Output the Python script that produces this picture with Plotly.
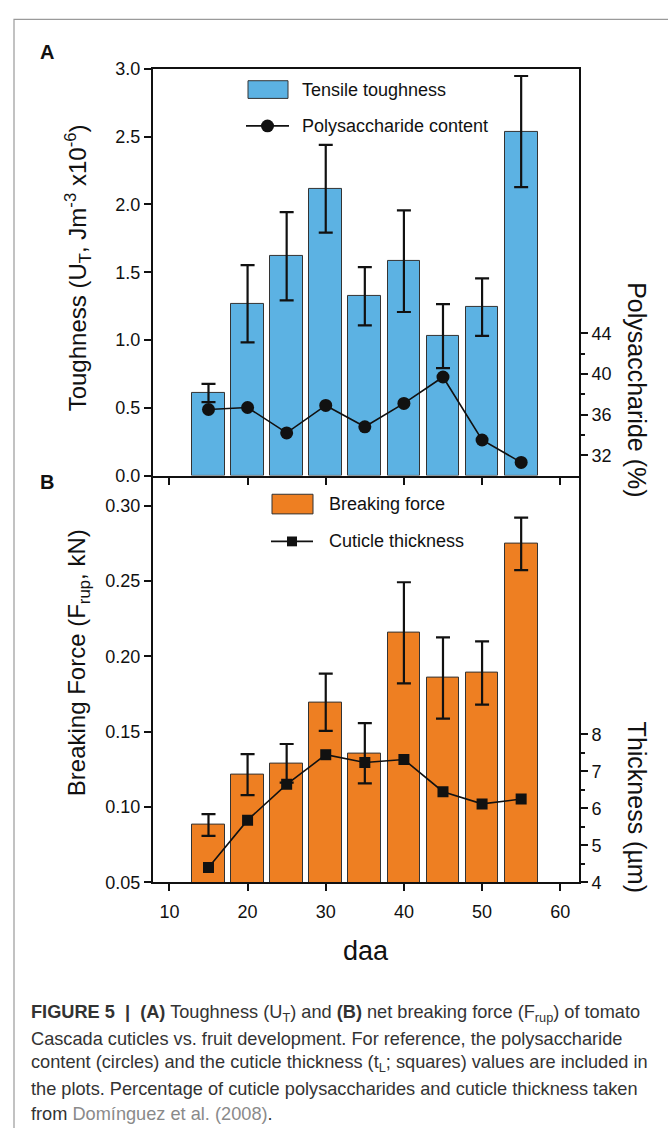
import plotly.graph_objects as go

# ---------------- data ----------------
daa = [15, 20, 25, 30, 35, 40, 45, 50, 55]
toughness = [0.609, 1.268, 1.618, 2.116, 1.323, 1.582, 1.029, 1.243, 2.538]
toughness_err = [0.067, 0.285, 0.325, 0.324, 0.215, 0.375, 0.236, 0.212, 0.41]
polysaccharide = [36.5, 36.7, 34.2, 36.9, 34.8, 37.1, 39.7, 33.5, 31.3]
breaking_force = [0.088, 0.1215, 0.129, 0.1695, 0.1356, 0.2156, 0.1856, 0.189, 0.2747]
breaking_force_err = [0.0072, 0.0136, 0.0128, 0.019, 0.020, 0.0336, 0.027, 0.021, 0.0174]
thickness = [4.40, 5.68, 6.65, 7.45, 7.24, 7.32, 6.45, 6.12, 6.25]

x_ticks = [10, 20, 30, 40, 50, 60]
tough_ticks = [0.0, 0.5, 1.0, 1.5, 2.0, 2.5, 3.0]
poly_ticks = [32, 36, 40, 44]
poly_minor = [34, 38, 42]
force_ticks = [0.05, 0.10, 0.15, 0.20, 0.25, 0.30]
thick_ticks = [4, 5, 6, 7, 8]
thick_minor = [4.5, 5.5, 6.5, 7.5]

BLUE = "#5CB2E3"
ORANGE = "#EE7F22"
FONT = "Liberation Sans"

W, H = 668, 1128


def px(x):
    return x / W


def py(y):
    return 1 - y / H


fig = go.Figure()

# Panel A
fig.add_trace(go.Bar(x=daa, y=toughness, width=4.2, marker=dict(color=BLUE, line=dict(color="#333333", width=1)),
                     error_y=dict(type="data", array=toughness_err, color="#111111", thickness=2.2, width=7),
                     xaxis="x", yaxis="y", showlegend=False))
fig.add_trace(go.Scatter(x=daa, y=polysaccharide, mode="lines+markers",
                         line=dict(color="#111111", width=1.6),
                         marker=dict(symbol="circle", size=13, color="#111111"),
                         xaxis="x", yaxis="y2", showlegend=False))
# Panel B
fig.add_trace(go.Bar(x=daa, y=breaking_force, width=4.2, marker=dict(color=ORANGE, line=dict(color="#333333", width=1)),
                     error_y=dict(type="data", array=breaking_force_err, color="#111111", thickness=2.2, width=7),
                     xaxis="x2", yaxis="y3", showlegend=False))
fig.add_trace(go.Scatter(x=daa, y=thickness, mode="lines+markers",
                         line=dict(color="#111111", width=1.6),
                         marker=dict(symbol="square", size=11, color="#111111"),
                         xaxis="x2", yaxis="y4", showlegend=False))

xdom = [px(153), px(579)]
domA = [py(474), py(60)]
domB = [py(888), py(474)]
xr = [7.9, 62.4]
tickfont = dict(family=FONT, size=18, color="#111111")
axline = dict(showline=True, linecolor="#111111", linewidth=2, ticks="outside", tickcolor="#111111",
              tickwidth=2, ticklen=7, showgrid=False, zeroline=False)

fig.update_layout(
    width=W, height=H, margin=dict(l=0, r=0, t=0, b=0),
    paper_bgcolor="white", plot_bgcolor="rgba(0,0,0,0)",
    bargap=0, showlegend=False,
    xaxis=dict(domain=xdom, anchor="y", range=xr, tickvals=x_ticks, showticklabels=False, mirror=True, **axline),
    yaxis=dict(domain=domA, anchor="x", range=[0, 3], tickvals=tough_ticks, tickformat=".1f",
               tickfont=tickfont, **axline),
    yaxis2=dict(overlaying="y", anchor="x", side="right", range=[30, 70], tickvals=poly_ticks,
                tickfont=tickfont, minor=dict(tickvals=poly_minor, ticks="outside", ticklen=4, tickwidth=2,
                                              tickcolor="#111111"), **axline),
    xaxis2=dict(domain=xdom, anchor="y3", range=xr, tickvals=x_ticks, tickfont=tickfont,
                ticklabelstandoff=5, **axline),
    yaxis3=dict(domain=domB, anchor="x2", range=[0.05, 0.32], tickvals=force_ticks, tickformat=".2f",
                tickfont=tickfont, **axline),
    yaxis4=dict(overlaying="y3", anchor="x2", side="right", range=[4, 15], tickvals=thick_ticks,
                tickfont=tickfont, minor=dict(tickvals=thick_minor, ticks="outside", ticklen=4, tickwidth=2,
                                              tickcolor="#111111"), **axline),
)

shapes = []
# outer frame
shapes.append(dict(type="rect", xref="paper", yref="paper", x0=px(14), x1=px(700), y0=py(1140), y1=py(9.5),
                   line=dict(color="#9a9a9a", width=1.2), fillcolor="rgba(0,0,0,0)", layer="below"))
# legend A
shapes.append(dict(type="rect", xref="paper", yref="paper", x0=px(248), x1=px(288), y0=py(90), y1=py(72),
                   line=dict(color="#333333", width=1), fillcolor=BLUE))
shapes.append(dict(type="line", xref="paper", yref="paper", x0=px(246), x1=px(289), y0=py(118), y1=py(118),
                   line=dict(color="#111111", width=1.6)))
shapes.append(dict(type="circle", xref="paper", yref="paper", x0=px(261), x1=px(274), y0=py(124.5), y1=py(111.5),
                   line=dict(color="#111111", width=0), fillcolor="#111111"))
# legend B
shapes.append(dict(type="rect", xref="paper", yref="paper", x0=px(272), x1=px(313), y0=py(513), y1=py(493),
                   line=dict(color="#333333", width=1), fillcolor=ORANGE))
shapes.append(dict(type="line", xref="paper", yref="paper", x0=px(271), x1=px(313), y0=py(541), y1=py(541),
                   line=dict(color="#111111", width=1.6)))
shapes.append(dict(type="rect", xref="paper", yref="paper", x0=px(287), x1=px(297), y0=py(546), y1=py(536),
                   line=dict(color="#111111", width=0), fillcolor="#111111"))
fig.update_layout(shapes=shapes)

ann = []


def text(x, y, s, size, xanchor="left", yanchor="middle", angle=0, color="#111111"):
    ann.append(dict(x=px(x), y=py(y), xref="paper", yref="paper", text=s, showarrow=False,
                    xanchor=xanchor, yanchor=yanchor, textangle=angle,
                    font=dict(family=FONT, size=size, color=color)))


text(38, 43, "<b>A</b>", 20)
text(38, 481, "<b>B</b>", 20)
text(300, 81, "Tensile toughness", 18)
text(300, 118, "Polysaccharide content", 18)
text(327, 503, "Breaking force", 18)
text(327, 541, "Cuticle thickness", 18)
text(78, 263, "Toughness (U<sub>T</sub>, Jm<sup>-3</sup> x10<sup>-6</sup>)", 24, xanchor="center", angle=-90)
text(78, 665, "Breaking Force (F<sub>rup</sub>, kN)", 24, xanchor="center", angle=-90)
text(637, 386, "Polysaccharide (%)", 25, xanchor="center", angle=90)
text(637, 811, "Thickness (\u00b5m)", 25, xanchor="center", angle=90)
text(366, 958, "daa", 27, xanchor="center")

cap_color = "#333333"
grey = "#8a8a8a"
lines = [
    "<b>FIGURE 5  |  (A)</b> Toughness (U<sub>T</sub>) and <b>(B)</b> net breaking force (F<sub>rup</sub>) of tomato",
    "Cascada cuticles vs. fruit development. For reference, the polysaccharide",
    "content (circles) and the cuticle thickness (t<sub>L</sub>; squares) values are included in",
    "the plots. Percentage of cuticle polysaccharides and cuticle thickness taken",
    "from <span style='color:%s'>Dom\u00ednguez et al. (2008)</span>." % grey,
]
for i, s in enumerate(lines):
    text(29, 1022 + i * 25.5, s, 18.2, color=cap_color)

fig.update_layout(annotations=ann)

fig.write_html("out.html")
